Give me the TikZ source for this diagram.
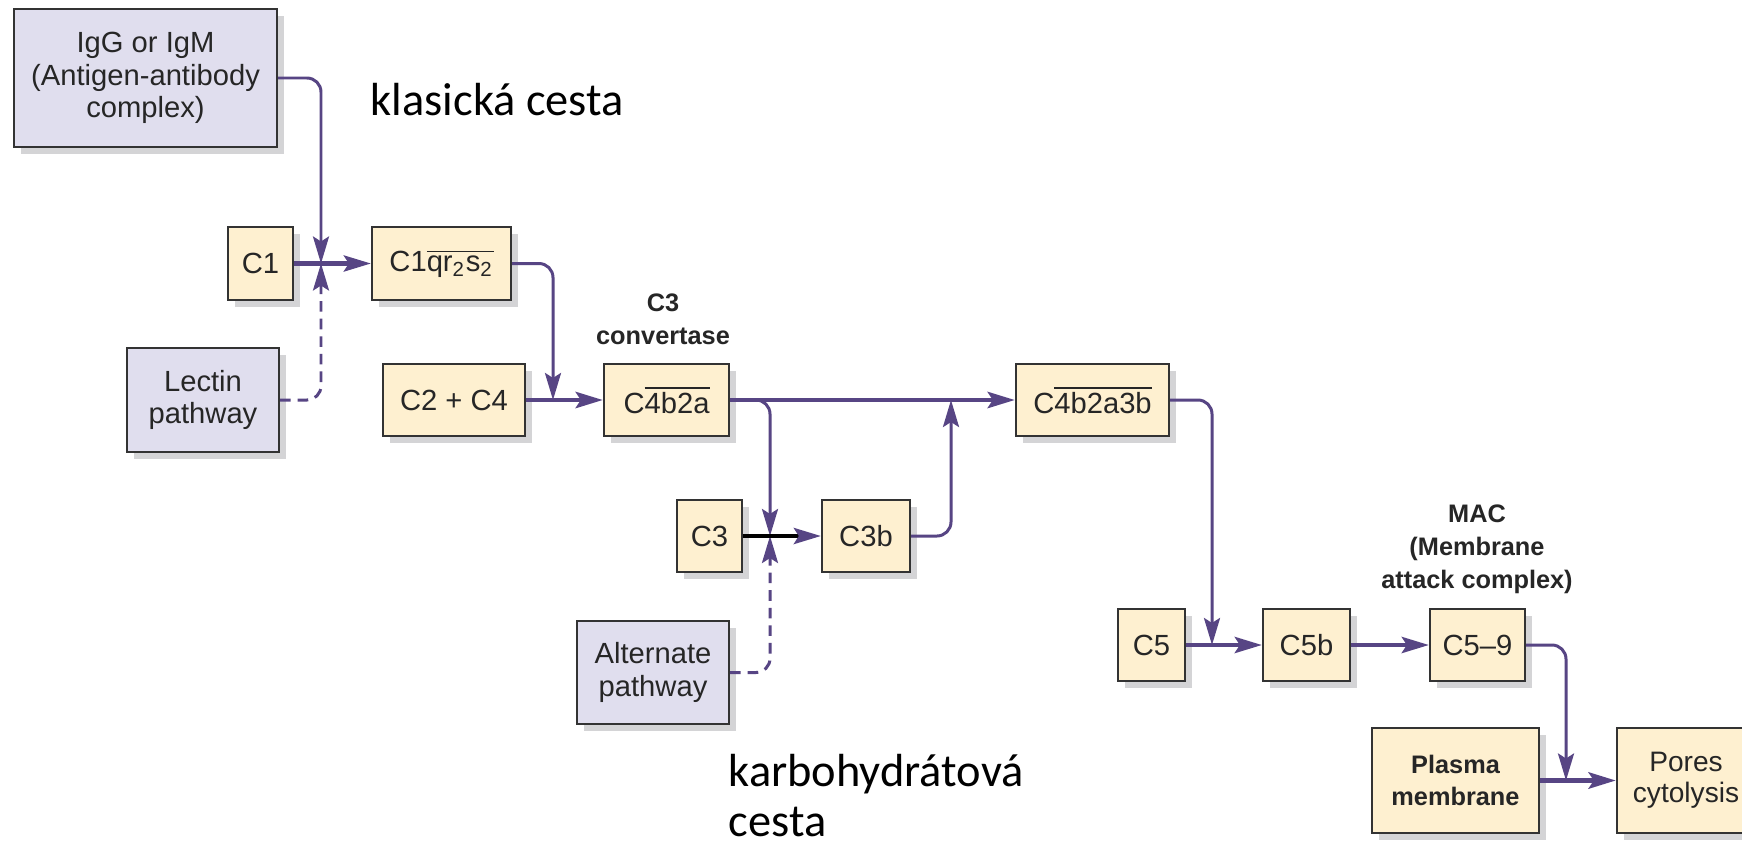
\documentclass[tikz,border=0pt]{standalone}
\usepackage{fontspec}
\setmainfont{Liberation Sans}
\newfontfamily\slidefont{Carlito}
\usetikzlibrary{arrows.meta, shadows}

\definecolor{flowc}{RGB}{87,69,132}
\definecolor{lilac}{RGB}{224,222,238}
\definecolor{cream}{RGB}{254,240,208}
\definecolor{edgec}{RGB}{51,51,51}
\definecolor{shade}{RGB}{212,212,214}

\begin{document}
\begin{tikzpicture}[
    x=0.01cm, y=-0.01cm,
    box/.style={rectangle, draw=edgec, line width=0.6pt, text=black!85, align=center, inner sep=0pt,
        font=\fontsize{8.3}{9.2}\selectfont,
        drop shadow={shadow xshift=2pt, shadow yshift=-2pt, fill=shade, opacity=1}},
    comp/.style={box, fill=cream},
    src/.style={box, fill=lilac},
    tag/.style={align=center, font=\bfseries\fontsize{7.2}{9.4}\selectfont, text=black!85},
    note/.style={font=\slidefont\fontsize{13.2}{14.2}\selectfont, align=left, inner sep=0pt},
    flow/.style={draw=flowc, line width=1.2pt, rounded corners=4pt,
        -{Stealth[length=2.7mm, width=1.6mm, inset=0.5mm]}},
    thin/.style={flow, line width=0.85pt},
    side/.style={thin, dash pattern=on 3pt off 2pt}
]
\path[use as bounding box, fill=white] (0,0) rectangle (1742,848);

% Activating pathways (lilac boxes)
\node[src, minimum width=2.63cm, minimum height=1.38cm] (igg) at (145.5,78) {IgG or IgM\\(Antigen-antibody\\complex)};
\node[src, minimum width=1.52cm, minimum height=1.04cm] (lectin) at (203,400) {Lectin\\pathway};
\node[src, minimum width=1.52cm, minimum height=1.03cm] (alt) at (653,672.5) {Alternate\\pathway};

% Classical cascade
\node[comp, minimum width=0.65cm, minimum height=0.73cm] (c1) at (260.5,263.5) {C1};
\node[comp, minimum width=1.39cm, minimum height=0.73cm] (c1q) at (441.5,263.5) {C1$\overline{\mbox{qr\textsubscript{2}s\textsubscript{2}}}$};
\node[comp, minimum width=1.42cm, minimum height=0.72cm] (c2c4) at (454,400) {C2 + C4};
\node[comp, minimum width=1.25cm, minimum height=0.72cm] (c4b2a) at (666.5,400) {C$\overline{\mbox{4b2a}}$};
\node[comp, minimum width=1.53cm, minimum height=0.72cm] (c4b2a3b) at (1092.5,400) {C$\overline{\mbox{4b2a3b}}$};

% C3 row
\node[comp, minimum width=0.65cm, minimum height=0.72cm] (c3) at (709.5,536) {C3};
\node[comp, minimum width=0.88cm, minimum height=0.72cm] (c3b) at (866,536) {C3b};

% Terminal pathway
\node[comp, minimum width=0.67cm, minimum height=0.72cm] (c5) at (1151.5,645) {C5};
\node[comp, minimum width=0.87cm, minimum height=0.72cm] (c5b) at (1306.5,645) {C5b};
\node[comp, minimum width=0.95cm, minimum height=0.72cm] (c59) at (1477.5,645) {C5--9};
\node[comp, minimum width=1.67cm, minimum height=1.05cm, font=\bfseries\fontsize{7.2}{9.2}\selectfont] (plasma) at (1455.5,780.5) {Plasma\\membrane};
\node[comp, minimum width=1.38cm, minimum height=1.05cm, font=\fontsize{8}{8.7}\selectfont] (pores) at (1686,780.5) {Pores\\cytolysis};

% Labels
\node[tag] (conv) at (663,319) {C3\\convertase};
\node[tag] (mac) at (1477,549) {MAC\\(Membrane\\attack complex)};
\node[note, anchor=base west] (classic) at (370,115) {klasická cesta};
\node[note, anchor=north west] (carb) at (728,754) {karbohydrátová\\cesta};

% Junction points
\coordinate (j1) at (321,263.5);
\coordinate (j2) at (553,400);
\coordinate (j3) at (770,536);
\coordinate (j5) at (951,400);
\coordinate (j6) at (1212,645);
\coordinate (j7) at (1566,780.5);

% Connectors
\draw[thin] (igg.east) -| (j1);
\draw[side] (lectin.east) -| (j1);
\draw[flow] (c1) -- (c1q);
\draw[thin] (c1q.east) -| (j2);
\draw[flow, line width=1.4pt] (c2c4) -- (c4b2a);
\draw[flow, line width=1.4pt] (c4b2a) -- (c4b2a3b);
\draw[thin] (c4b2a.east) -| (j3);
\draw[side] (alt.east) -| (j3);
\draw[flow, draw=black, -{Stealth[length=2.7mm, width=1.6mm, inset=0.5mm, color=flowc]}] (c3) -- (c3b);
\draw[thin] (c3b.east) -| (j5);
\draw[thin] (c4b2a3b.east) -| (j6);
\draw[flow, line width=1.3pt] (c5) -- (c5b);
\draw[flow, line width=1.3pt] (c5b) -- (c59);
\draw[thin] (c59.east) -| (j7);
\draw[flow, line width=1.5pt] (plasma) -- (pores);

\end{tikzpicture}
\end{document}
